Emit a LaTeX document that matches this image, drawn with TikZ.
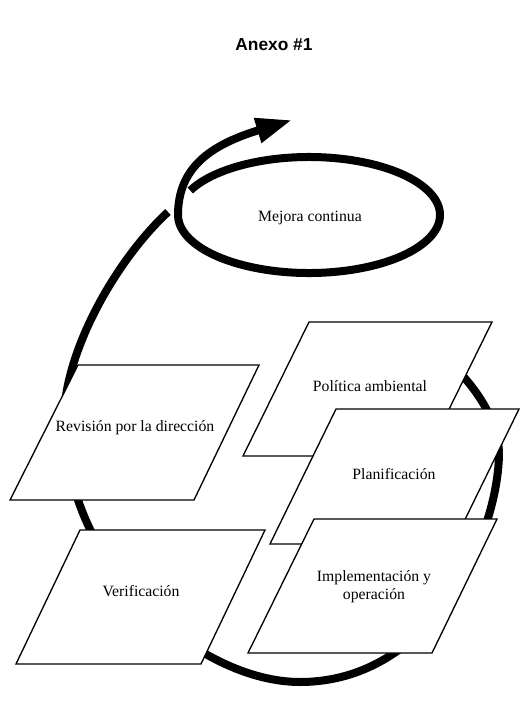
\documentclass[tikz,border=0pt]{standalone}
\usepackage{fontspec}
\setmainfont{Liberation Serif}
\newfontfamily\titlefont{Liberation Sans}
\usetikzlibrary{arrows.meta}

\begin{document}
\begin{tikzpicture}[x=0.75pt,y=-0.75pt,
  lazo/.style={line width=6pt},
  plano/.style={draw,fill=white,line width=1pt,line join=miter},
  texto/.style={font=\fontsize{11.8}{13.5}\selectfont,align=center}]
  \useasboundingbox (0,0) rectangle (528,701);
  \node[font=\titlefont\fontsize{13}{15}\selectfont\bfseries] (titulo) at (274,45) {Anexo \#1};
  \draw[lazo] (445,358) .. controls (475,385) and (499,420) .. (499,455)
    .. controls (497,540) and (430,682) .. (300,682)
    .. controls (200,682) and (66,570) .. (64,420)
    .. controls (64,350) and (118,258) .. (168,212);
  \draw[lazo,-{Triangle[length=27pt,width=18pt]}] (309,215) ++(205:131 and 58) arc[start angle=205,end angle=540,x radius=131,y radius=58] .. controls (178,168) and (210,145) .. (292,120);
  \node[texto] (mejora) at (310,218) {Mejora continua};
  \draw[plano] (78,365) -- (259,365) -- (194,500) -- (10,500) -- cycle;
  \node[texto] (revision) at (135,428) {Revisión por la dirección};
  \draw[plano] (80,530) -- (265,530) -- (201,664) -- (16,664) -- cycle;
  \node[texto] (verif) at (141,591) {Verificación};
  \draw[plano] (309,322) -- (492,322) -- (426,456) -- (243,456) -- cycle;
  \node[texto] (politica) at (370,386) {Política ambiental};
  \draw[plano] (336,409) -- (519,409) -- (453,544) -- (270,544) -- cycle;
  \node[texto] (planif) at (394,474) {Planificación};
  \draw[plano] (314,519) -- (497,519) -- (432,653) -- (248,653) -- cycle;
  \node[texto] (implem) at (374,587) {Implementación y\\operación};
\end{tikzpicture}
\end{document}
